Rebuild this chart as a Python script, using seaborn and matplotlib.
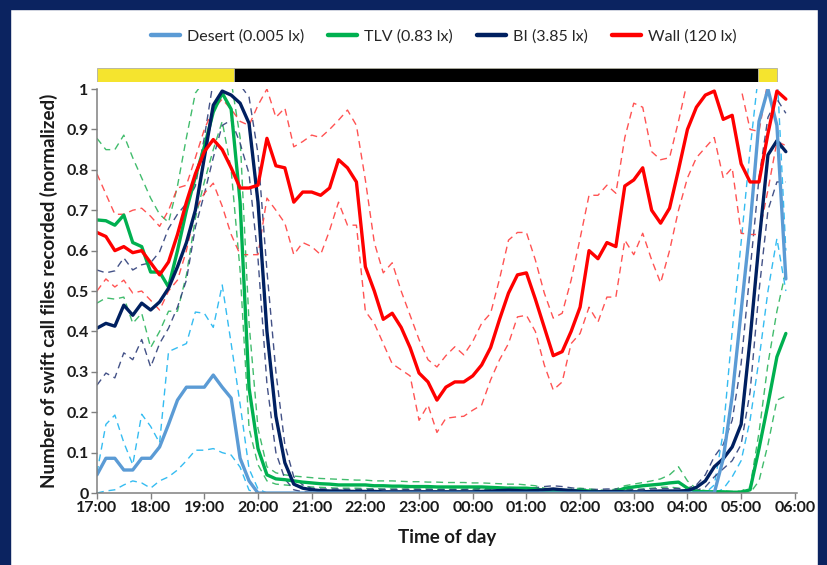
import matplotlib.pyplot as plt
import matplotlib.patches as mpatches
from matplotlib.lines import Line2D
from matplotlib.ticker import FuncFormatter
import seaborn as sns
import numpy as np

# 10-minute bins from 17:00 to 05:50, x in hours after 17:00
bin_minutes = np.arange(0, 780, 10)
hours = bin_minutes / 60

hour_labels = ["17:00", "18:00", "19:00", "20:00", "21:00", "22:00", "23:00",
               "00:00", "01:00", "02:00", "03:00", "04:00", "05:00", "06:00"]

# Desert (0.005 lx)
desert_mean = [0.045, 0.086, 0.086, 0.057, 0.057, 0.086, 0.086, 0.114, 0.17, 0.23,
               0.262, 0.262, 0.262, 0.292, 0.262, 0.235, 0.086, 0.03, 0.0, 0.0,
               0.0, 0.0, 0.0, 0.0, 0.0, 0.0, 0.0, 0.0, 0.0, 0.0,
               0.0, 0.0, 0.0, 0.0, 0.0, 0.0, 0.0, 0.0, 0.0, 0.0,
               0.0, 0.0, 0.0, 0.0, 0.0, 0.0, 0.0, 0.0, 0.0, 0.0,
               0.0, 0.0, 0.0, 0.0, 0.0, 0.0, 0.0, 0.0, 0.0, 0.0,
               0.0, 0.0, 0.0, 0.0, 0.0, 0.0, 0.0, 0.0, 0.0, 0.0,
               0.085, 0.24, 0.45, 0.66, 0.92, 1.0, 0.91, 0.53]
desert_upper = [0.05, 0.17, 0.193, 0.125, 0.07, 0.195, 0.165, 0.124, 0.35, 0.36,
                0.37, 0.448, 0.445, 0.41, 0.515, 0.37, 0.22, 0.06, 0.01, 0.0,
                0.0, 0.0, 0.0, 0.0, 0.0, 0.0, 0.0, 0.0, 0.0, 0.0,
                0.0, 0.0, 0.0, 0.0, 0.0, 0.0, 0.0, 0.0, 0.0, 0.0,
                0.0, 0.0, 0.0, 0.0, 0.0, 0.0, 0.0, 0.0, 0.0, 0.0,
                0.0, 0.0, 0.0, 0.0, 0.0, 0.0, 0.0, 0.0, 0.0, 0.0,
                0.0, 0.0, 0.0, 0.0, 0.0, 0.0, 0.0, 0.0, 0.0, 0.02,
                0.15, 0.40, 0.62, 0.85, 1.05, 1.1, 1.05, 0.60]
desert_lower = [0.0, 0.005, 0.008, 0.02, 0.03, 0.025, 0.012, 0.03, 0.04, 0.057,
                0.08, 0.106, 0.106, 0.11, 0.10, 0.094, 0.064, 0.007, 0.0, 0.0,
                0.0, 0.0, 0.0, 0.0, 0.0, 0.0, 0.0, 0.0, 0.0, 0.0,
                0.0, 0.0, 0.0, 0.0, 0.0, 0.0, 0.0, 0.0, 0.0, 0.0,
                0.0, 0.0, 0.0, 0.0, 0.0, 0.0, 0.0, 0.0, 0.0, 0.0,
                0.0, 0.0, 0.0, 0.0, 0.0, 0.0, 0.0, 0.0, 0.0, 0.0,
                0.0, 0.0, 0.0, 0.0, 0.0, 0.0, 0.0, 0.0, 0.0, 0.0,
                0.01, 0.04, 0.08, 0.18, 0.33, 0.50, 0.63, 0.50]

# TLV (0.83 lx)
tlv_mean = [0.676, 0.674, 0.663, 0.688, 0.62, 0.61, 0.547, 0.547, 0.51, 0.60,
            0.70, 0.783, 0.857, 0.943, 0.99, 0.95, 0.72, 0.26, 0.11, 0.045,
            0.035, 0.033, 0.03, 0.027, 0.025, 0.023, 0.022, 0.02, 0.02, 0.02,
            0.02, 0.018, 0.018, 0.017, 0.017, 0.016, 0.016, 0.016, 0.015, 0.015,
            0.015, 0.015, 0.015, 0.015, 0.014, 0.013, 0.012, 0.012, 0.012, 0.01,
            0.006, 0.004, 0.003, 0.005, 0.007, 0.005, 0.003, 0.002, 0.004, 0.012,
            0.015, 0.018, 0.02, 0.022, 0.025, 0.027, 0.012, 0.004, 0.003, 0.003,
            0.003, 0.002, 0.002, 0.008, 0.11, 0.22, 0.337, 0.395]
tlv_upper = [0.878, 0.85, 0.85, 0.886, 0.83, 0.78, 0.73, 0.69, 0.67, 0.76,
             0.88, 0.99, 1.02, 1.05, 1.05, 1.02, 0.88, 0.42, 0.16, 0.065,
             0.05, 0.045, 0.042, 0.04, 0.038, 0.036, 0.035, 0.034, 0.033, 0.032,
             0.032, 0.03, 0.03, 0.03, 0.029, 0.028, 0.028, 0.027, 0.027, 0.026,
             0.026, 0.026, 0.025, 0.025, 0.024, 0.023, 0.022, 0.022, 0.02, 0.018,
             0.012, 0.009, 0.007, 0.01, 0.012, 0.01, 0.008, 0.006, 0.01, 0.018,
             0.022, 0.026, 0.03, 0.035, 0.045, 0.065, 0.03, 0.01, 0.006, 0.005,
             0.005, 0.004, 0.005, 0.015, 0.15, 0.32, 0.45, 0.55]
tlv_lower = [0.47, 0.483, 0.48, 0.485, 0.42, 0.445, 0.36, 0.40, 0.45, 0.45,
             0.54, 0.68, 0.77, 0.85, 0.92, 0.80, 0.55, 0.16, 0.07, 0.03,
             0.022, 0.02, 0.018, 0.017, 0.015, 0.014, 0.013, 0.012, 0.012, 0.012,
             0.011, 0.011, 0.01, 0.01, 0.01, 0.01, 0.01, 0.01, 0.009, 0.009,
             0.009, 0.009, 0.009, 0.009, 0.008, 0.008, 0.007, 0.007, 0.006, 0.005,
             0.002, 0.0, 0.0, 0.001, 0.003, 0.001, 0.0, 0.0, 0.001, 0.004,
             0.007, 0.01, 0.012, 0.014, 0.015, 0.012, 0.005, 0.001, 0.0, 0.0,
             0.0, 0.0, 0.0, 0.0, 0.03, 0.12, 0.23, 0.24]

# BI (3.85 lx)
bi_mean = [0.408, 0.42, 0.413, 0.465, 0.44, 0.47, 0.453, 0.473, 0.507, 0.56,
           0.62, 0.70, 0.83, 0.96, 0.995, 0.985, 0.965, 0.915, 0.72, 0.40,
           0.19, 0.075, 0.022, 0.012, 0.008, 0.006, 0.005, 0.005, 0.004, 0.004,
           0.004, 0.004, 0.003, 0.003, 0.003, 0.003, 0.003, 0.003, 0.003, 0.003,
           0.003, 0.003, 0.003, 0.004, 0.005, 0.006, 0.007, 0.006, 0.005, 0.006,
           0.008, 0.010, 0.008, 0.006, 0.004, 0.003, 0.003, 0.004, 0.004, 0.003,
           0.003, 0.003, 0.004, 0.005, 0.005, 0.005, 0.006, 0.014, 0.03, 0.065,
           0.085, 0.114, 0.17, 0.38, 0.62, 0.837, 0.872, 0.845]
bi_upper = [0.552, 0.545, 0.55, 0.582, 0.552, 0.565, 0.57, 0.597, 0.655, 0.69,
            0.717, 0.76, 0.88, 1.02, 1.05, 1.03, 1.01, 0.98, 0.84, 0.55,
            0.30, 0.12, 0.04, 0.02, 0.012, 0.01, 0.01, 0.01, 0.009, 0.009,
            0.009, 0.009, 0.009, 0.009, 0.009, 0.009, 0.009, 0.009, 0.009, 0.009,
            0.009, 0.009, 0.01, 0.011, 0.012, 0.013, 0.014, 0.013, 0.012, 0.013,
            0.016, 0.018, 0.016, 0.013, 0.01, 0.009, 0.009, 0.01, 0.01, 0.009,
            0.009, 0.009, 0.01, 0.011, 0.011, 0.011, 0.012, 0.02, 0.045, 0.09,
            0.12, 0.18, 0.32, 0.55, 0.78, 0.93, 0.975, 0.94]
bi_lower = [0.267, 0.297, 0.285, 0.347, 0.33, 0.38, 0.312, 0.37, 0.408, 0.46,
            0.527, 0.658, 0.74, 0.83, 0.91, 0.923, 0.866, 0.79, 0.58, 0.27,
            0.10, 0.035, 0.008, 0.003, 0.002, 0.001, 0.001, 0.001, 0.0, 0.0,
            0.0, 0.0, 0.0, 0.0, 0.0, 0.0, 0.0, 0.0, 0.0, 0.0,
            0.0, 0.0, 0.0, 0.0, 0.001, 0.001, 0.002, 0.001, 0.001, 0.001,
            0.002, 0.003, 0.002, 0.001, 0.0, 0.0, 0.0, 0.0, 0.0, 0.0,
            0.0, 0.0, 0.0, 0.001, 0.001, 0.001, 0.002, 0.006, 0.015, 0.04,
            0.06, 0.08, 0.12, 0.25, 0.50, 0.70, 0.77, 0.77]

# Wall (120 lx)
wall_mean = [0.645, 0.635, 0.60, 0.61, 0.595, 0.60, 0.57, 0.54, 0.572, 0.64,
             0.72, 0.79, 0.845, 0.875, 0.85, 0.805, 0.755, 0.755, 0.762, 0.878,
             0.81, 0.805, 0.72, 0.745, 0.745, 0.737, 0.755, 0.825, 0.805, 0.77,
             0.56, 0.50, 0.43, 0.445, 0.41, 0.36, 0.297, 0.275, 0.23, 0.262,
             0.275, 0.275, 0.29, 0.317, 0.36, 0.43, 0.495, 0.54, 0.545, 0.48,
             0.41, 0.34, 0.35, 0.40, 0.46, 0.60, 0.58, 0.62, 0.61, 0.76,
             0.775, 0.805, 0.70, 0.668, 0.705, 0.80, 0.90, 0.955, 0.985, 0.995,
             0.925, 0.935, 0.815, 0.77, 0.77, 0.89, 0.995, 0.975]
wall_upper = [0.79, 0.74, 0.69, 0.69, 0.70, 0.705, 0.685, 0.66, 0.70, 0.755,
              0.762, 0.83, 0.90, 0.95, 0.975, 0.95, 0.92, 0.91, 0.96, 1.0,
              0.93, 0.953, 0.857, 0.87, 0.886, 0.88, 0.90, 0.923, 0.948, 0.91,
              0.775, 0.62, 0.545, 0.57, 0.50, 0.44, 0.38, 0.33, 0.312, 0.34,
              0.362, 0.342, 0.375, 0.42, 0.445, 0.53, 0.626, 0.645, 0.645, 0.577,
              0.495, 0.433, 0.445, 0.527, 0.63, 0.737, 0.737, 0.762, 0.742, 0.88,
              0.965, 0.955, 0.845, 0.825, 0.83, 0.92, 1.02, 1.08, 1.1, 1.1,
              1.08, 1.04, 1.0, 0.90, 0.895, 1.02, 1.08, 1.02]
wall_lower = [0.50, 0.53, 0.51, 0.527, 0.495, 0.50, 0.477, 0.453, 0.50, 0.527,
              0.60, 0.70, 0.742, 0.767, 0.71, 0.64, 0.59, 0.59, 0.59, 0.73,
              0.70, 0.668, 0.59, 0.62, 0.61, 0.59, 0.65, 0.72, 0.663, 0.663,
              0.45, 0.42, 0.37, 0.32, 0.305, 0.29, 0.18, 0.218, 0.15, 0.185,
              0.188, 0.19, 0.205, 0.218, 0.28, 0.33, 0.37, 0.436, 0.44, 0.40,
              0.317, 0.255, 0.275, 0.37, 0.395, 0.46, 0.423, 0.485, 0.485, 0.626,
              0.59, 0.643, 0.577, 0.52, 0.60, 0.70, 0.78, 0.83, 0.855, 0.88,
              0.78, 0.805, 0.643, 0.64, 0.64, 0.75, 0.87, 0.86]

# light/dark bar above the plot (hours after 17:00)
light_phases = [(0.0, 2.55, "#F5E42E"), (2.55, 12.31, "black"), (12.31, 12.66, "#F5E42E")]

series = [
    ("Desert (0.005 lx)", desert_mean, desert_upper, desert_lower, "#5B9BD5", "#1FB5F0"),
    ("TLV (0.83 lx)", tlv_mean, tlv_upper, tlv_lower, "#00B050", "#2DB55D"),
    ("BI (3.85 lx)", bi_mean, bi_upper, bi_lower, "#002060", "#2F3F7A"),
    ("Wall (120 lx)", wall_mean, wall_upper, wall_lower, "#FF0000", "#FF4040"),
]

sns.set_theme(style="ticks")
plt.rcParams['font.family'] = ['Lato', 'DejaVu Sans']

fig = plt.figure(figsize=(8.28, 5.65), dpi=100)
fig.patch.set_facecolor("white")
ax = fig.add_axes([0.1171, 0.1274, 0.8454, 0.715])

# dashed spread lines first, then the means on top
for name, mean, upper, lower, c_mean, c_dash in series:
    for band in (upper, lower):
        sns.lineplot(x=hours, y=band, ax=ax, color=c_dash, lw=1.0,
                     linestyle=(0, (5, 3.5)), alpha=0.9)

draw_order = [1, 2, 0, 3]
handles = {}
for k in draw_order:
    name, mean, upper, lower, c_mean, c_dash = series[k]
    sns.lineplot(x=hours, y=mean, ax=ax, color=c_mean, lw=2.4)
    handles[name] = Line2D([], [], color=c_mean, lw=3.2)

ax.set_xlim(0, 13.04)
ax.set_ylim(0, 1)
ax.set_xticks(range(len(hour_labels)))
ax.set_xticklabels(hour_labels)
ax.set_yticks(np.arange(0, 1.01, 0.1))
ax.yaxis.set_major_formatter(FuncFormatter(lambda v, p: f"{v:g}"))
for lab in ax.get_xticklabels() + ax.get_yticklabels():
    lab.set_fontweight("bold")
    lab.set_fontsize(11.5)
    lab.set_color("#1a1a1a")
ax.tick_params(axis="both", direction="out", length=4, width=1, color="#808080", pad=2)
sns.despine(ax=ax)
for sp in ("left", "bottom"):
    ax.spines[sp].set_color("#808080")
    ax.spines[sp].set_linewidth(1.1)
ax.set_xlabel("Time of day", fontsize=13.5, fontweight="bold", color="#1a1a1a", labelpad=10)
ax.set_ylabel("Number of swift call files recorded (normalized)", fontsize=13.5,
              fontweight="bold", color="#1a1a1a", labelpad=6)

# light/dark bar
bar_ax = fig.add_axes([0.1171, 0.855, 0.8454, 0.0248], sharex=ax)
for start, end, col in light_phases:
    bar_ax.axvspan(start, end, facecolor=col, edgecolor="#b0b0a0", lw=0.6)
bar_ax.axis("off")
bar_ax.set_xlim(0, 13.04)

names = [s[0] for s in series]
fig.legend([handles[n] for n in names], names, loc="center",
           bbox_to_anchor=(0.536, 0.936), ncol=4, frameon=False,
           handlelength=1.8, handletextpad=0.45, columnspacing=1.5, fontsize=11.5)

# navy frame around the slide
navy = "#0B2360"
for x0, y0, w, h in [(0, 0, 0.012, 1), (0, 0.984, 1, 0.016), (0.988, 0, 0.012, 1)]:
    fig.patches.append(mpatches.Rectangle((x0, y0), w, h, transform=fig.transFigure,
                                          color=navy, zorder=10))

fig.savefig("out.png", dpi=100)
